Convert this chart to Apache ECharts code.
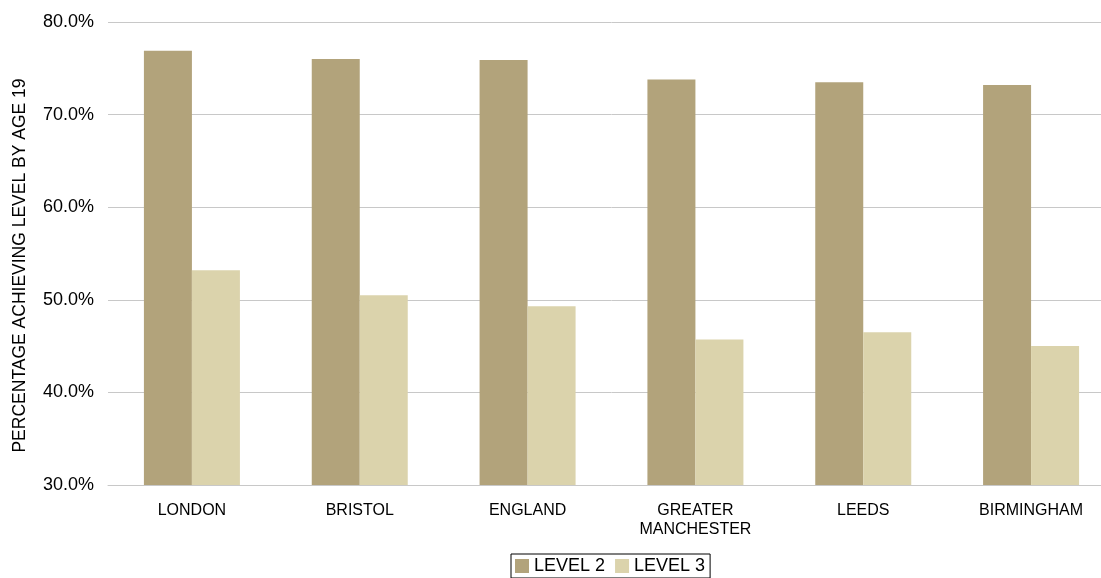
<!DOCTYPE html>
<html>
<head>
<meta charset="utf-8">
<script src="https://cdn.jsdelivr.net/npm/echarts@6/dist/echarts.min.js"></script>
<style>
  html, body { margin: 0; padding: 0; background: #ffffff; overflow: hidden; }
  #chart { width: 1115px; height: 578px; }
</style>
</head>
<body>
<div id="chart"></div>
<script>
// Share of young people achieving each qualification level by age 19
const categories = ['LONDON', 'BRISTOL', 'ENGLAND', 'GREATER\nMANCHESTER', 'LEEDS', 'BIRMINGHAM'];
const level2 = [76.9, 76.0, 75.9, 73.8, 73.5, 73.2];
const level3 = [53.2, 50.5, 49.3, 45.7, 46.5, 45.0];
const seriesNames = ['LEVEL 2', 'LEVEL 3'];
const yTicks = { min: 30, max: 80, step: 10 };

const font = 'Helvetica, "Liberation Sans", Arial, sans-serif';

const chart = echarts.init(document.getElementById('chart'), null, { renderer: 'canvas' });
chart.setOption({
  animation: false,
  textStyle: { fontFamily: font },
  grid: { left: 108, top: 22, right: 0, height: 463, containLabel: false },
  legend: {
    data: seriesNames,
    left: 511,
    top: 554,
    itemWidth: 14,
    itemHeight: 14,
    itemGap: 10,
    padding: [3, 5, 3, 4],
    borderColor: '#000000',
    borderWidth: 1,
    textStyle: { fontSize: 18, color: '#000000', fontFamily: font },
    icon: 'rect'
  },
  xAxis: {
    type: 'category',
    data: categories,
    axisLine: { show: true, lineStyle: { color: '#c8c8c8', width: 1 } },
    axisTick: { show: false },
    axisLabel: { fontSize: 16, color: '#000000', margin: 16, lineHeight: 19, fontFamily: font }
  },
  yAxis: {
    type: 'value',
    min: yTicks.min,
    max: yTicks.max,
    interval: yTicks.step,
    name: 'PERCENTAGE ACHIEVING LEVEL BY AGE 19',
    nameLocation: 'middle',
    nameGap: 79,
    nameRotate: 90,
    nameTextStyle: { fontSize: 17.5, color: '#000000', fontFamily: font, padding: [0, 24, 0, 0] },
    axisLine: { show: false },
    axisTick: { show: false },
    axisLabel: {
      fontSize: 18,
      color: '#000000',
      margin: 14,
      fontFamily: font,
      formatter: v => v.toFixed(1) + '%'
    },
    splitLine: { lineStyle: { color: '#c8c8c8', width: 1 } }
  },
  series: [
    {
      name: seriesNames[0],
      type: 'bar',
      data: level2,
      barWidth: 48,
      barGap: '0%',
      itemStyle: { color: '#b2a37b' }
    },
    {
      name: seriesNames[1],
      type: 'bar',
      data: level3,
      barWidth: 48,
      barGap: '0%',
      itemStyle: { color: '#dbd3ac' }
    }
  ]
});
</script>
</body>
</html>
